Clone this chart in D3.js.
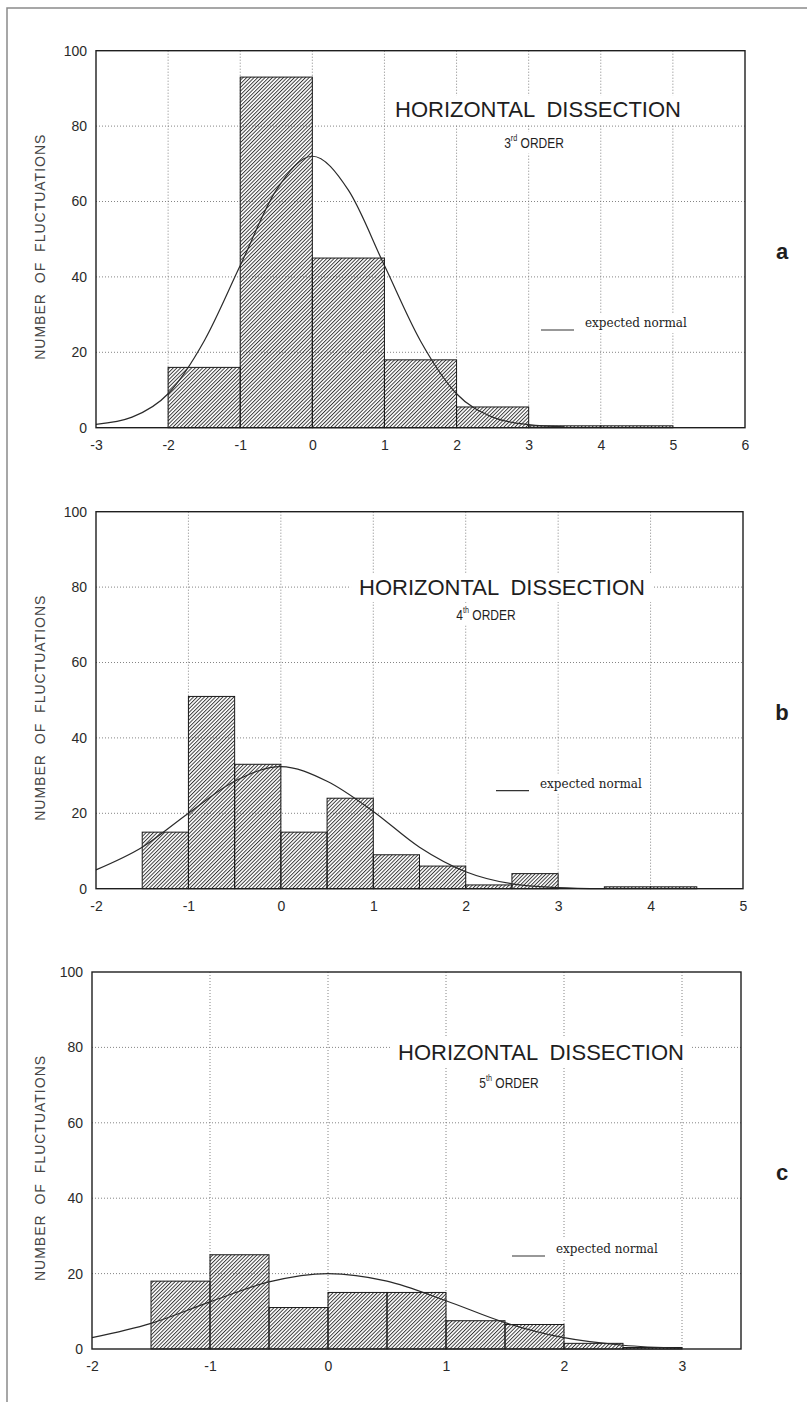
<!DOCTYPE html>
<html>
<head>
<meta charset="UTF-8">
<script src="https://cdn.jsdelivr.net/npm/d3@7"></script>
<style>
  body { margin: 0; background: #fff; }
  svg { display: block; }
  .tick-label { font-family: "Liberation Sans", Arial, sans-serif; font-size: 14px; fill: #2a2a2a; }
  .title { font-family: "Liberation Sans", Arial, sans-serif; fill: #1e1e1e; }
  .legend { font-family: "DejaVu Serif", serif; font-size: 12px; fill: #222; }
  .ytitle { font-family: "Liberation Sans", Arial, sans-serif; font-size: 14px; fill: #444; letter-spacing: 1px; word-spacing: 5px; }
  .grid { stroke: #777; stroke-width: 0.9; stroke-dasharray: 1,2; }
</style>
</head>
<body>
<div id="chart"></div>
<script>
const W = 807, H = 1402;

// --- datos ---
const ticksY = [0, 20, 40, 60, 80, 100];
const gridY = [20, 40, 60, 80];

// a: 3rd order
const edgesA = [-2, -1, 0, 1, 2, 3, 4, 5];
const countsA = [16, 93, 45, 18, 5.5, 0.5, 0.5];
const normXA = [-3, -2.5, -2, -1.5, -1, -0.5, 0, 0.5, 1, 1.5, 2, 2.5, 3, 3.5];
const normYA = [0.9, 2.8, 9, 23, 43, 63, 72, 63, 43, 23, 9, 2.8, 0.8, 0.2];
const ticksXA = [-3, -2, -1, 0, 1, 2, 3, 4, 5, 6];
const gridXA = [-2, -1, 0, 1, 2, 3, 4, 5];

// b: 4th order
const edgesB = [-1.5, -1, -0.5, 0, 0.5, 1, 1.5, 2, 2.5, 3, 3.5, 4, 4.5];
const countsB = [15, 51, 33, 15, 24, 9, 6, 1, 4, 0, 0.5, 0.5];
const normXB = [-2, -1.5, -1, -0.5, 0, 0.5, 1, 1.5, 2, 2.5, 3, 3.5];
const normYB = [5, 11, 20, 28.5, 32.4, 28.5, 20.5, 11, 4.5, 1.3, 0.3, 0];
const ticksXB = [-2, -1, 0, 1, 2, 3, 4, 5];
const gridXB = [-1, 0, 1, 2, 3, 4];

// c: 5th order
const edgesC = [-1.5, -1, -0.5, 0, 0.5, 1, 1.5, 2, 2.5, 3];
const countsC = [18, 25, 11, 15, 15, 7.5, 6.5, 1.5, 0.4];
const normXC = [-2, -1.5, -1, -0.5, 0, 0.5, 1, 1.5, 2, 2.5, 3];
const normYC = [3, 6.8, 12.5, 17.8, 20, 18, 12.8, 7, 3, 1, 0.2];
const ticksXC = [-2, -1, 0, 1, 2, 3];
const gridXC = [-1, 0, 1, 2, 3];

const titleText = "HORIZONTAL DISSECTION";
const orderNum = ["3", "4", "5"];
const orderSup = ["rd", "th", "th"];
const panelLetter = ["a", "b", "c"];
const legendText = "expected normal";
const yTitle = "NUMBER OF FLUCTUATIONS";

// --- disposicion de cada panel ---
const panels = [
  { x0: 96, x1: 745, top: 50.7, dom: [-3, 6], edges: edgesA, counts: countsA, nx: normXA, ny: normYA,
    ticks: ticksXA, grid: gridXA, titleX: 538, titleDy: 66.6, ordX: 534, ordDy: 97.6, legX: 541, legDy: 279.3 },
  { x0: 96, x1: 743, top: 511.7, dom: [-2, 5], edges: edgesB, counts: countsB, nx: normXB, ny: normYB,
    ticks: ticksXB, grid: gridXB, titleX: 502, titleDy: 83.3, ordX: 486, ordDy: 108.3, legX: 496, legDy: 279 },
  { x0: 92, x1: 741, top: 972, dom: [-2, 3.5], edges: edgesC, counts: countsC, nx: normXC, ny: normYC,
    ticks: ticksXC, grid: gridXC, titleX: 541, titleDy: 88, ordX: 509, ordDy: 116, legX: 512, legDy: 284 }
];
const plotH = 377;

const svg = d3.select("#chart").append("svg")
  .attr("width", W).attr("height", H);

// patron rayado
const defs = svg.append("defs");
defs.append("pattern")
  .attr("id", "hatch")
  .attr("patternUnits", "userSpaceOnUse")
  .attr("width", 2.6).attr("height", 2.6)
  .attr("patternTransform", "rotate(45)")
  .append("line")
  .attr("x1", 0.5).attr("y1", 0).attr("x2", 0.5).attr("y2", 2.6)
  .attr("stroke", "#2a2a2a").attr("stroke-width", 0.9);

// marco exterior
svg.append("rect")
  .attr("x", 7).attr("y", 8).attr("width", W + 10).attr("height", H + 10)
  .attr("fill", "none").attr("stroke", "#8a8a8a").attr("stroke-width", 1.5);

panels.forEach((p, i) => {
  const x = d3.scaleLinear().domain(p.dom).range([p.x0, p.x1]);
  const y = d3.scaleLinear().domain([0, 100]).range([p.top + plotH, p.top]);
  const g = svg.append("g");

  // rejilla
  g.selectAll(".gx").data(p.grid).join("line")
    .attr("class", "grid")
    .attr("x1", d => x(d)).attr("x2", d => x(d))
    .attr("y1", y(100)).attr("y2", y(0));
  g.selectAll(".gy").data(gridY).join("line")
    .attr("class", "grid")
    .attr("x1", p.x0).attr("x2", p.x1)
    .attr("y1", d => y(d)).attr("y2", d => y(d));

  // titulo con fondo blanco
  const tg = g.append("g");
  const t1 = tg.append("text").attr("class", "title")
    .attr("x", p.titleX).attr("y", p.top + p.titleDy)
    .attr("text-anchor", "middle").style("font-size", "22px")
    .style("word-spacing", "6px")
    .text(titleText);
  // texto de orden algo estrecho, como en el original
  const ordY = p.top + p.ordDy;
  const t2 = tg.append("text").attr("class", "title")
    .attr("transform", `translate(${p.ordX},${ordY}) scale(0.8,1)`)
    .attr("text-anchor", "middle").style("font-size", "15px");
  t2.append("tspan").text(orderNum[i]);
  t2.append("tspan").attr("dy", -7).style("font-size", "9px").text(orderSup[i]);
  t2.append("tspan").attr("dy", 7).text(" ORDER");
  const b1 = t1.node().getBBox();
  tg.insert("rect", "text")
    .attr("x", b1.x - 8).attr("y", b1.y - 2)
    .attr("width", b1.width + 16).attr("height", b1.height + 4)
    .attr("fill", "#fff");
  const b2 = t2.node().getBBox();
  tg.insert("rect", "text")
    .attr("x", p.ordX + (b2.x - 6) * 0.8).attr("y", ordY + b2.y - 2)
    .attr("width", (b2.width + 12) * 0.8).attr("height", b2.height + 4)
    .attr("fill", "#fff");

  // leyenda
  const lg = g.append("g");
  const ly = p.top + p.legDy;
  const lt = lg.append("text").attr("class", "legend")
    .attr("x", p.legX + 44).attr("y", ly - 3)
    .text(legendText);
  const lb = lt.node().getBBox();
  lg.insert("rect", "text")
    .attr("x", p.legX - 3).attr("y", lb.y - 3)
    .attr("width", lb.x + lb.width - p.legX + 6).attr("height", lb.height + 6)
    .attr("fill", "#fff");
  lg.append("line")
    .attr("x1", p.legX).attr("x2", p.legX + 33)
    .attr("y1", ly).attr("y2", ly)
    .attr("stroke", "#333").attr("stroke-width", 1.2);

  // barras
  const bins = p.counts.map((c, k) => ({ a: p.edges[k], b: p.edges[k + 1], c }));
  g.selectAll(".bar").data(bins.filter(d => d.c > 0)).join("rect")
    .attr("x", d => x(d.a)).attr("width", d => x(d.b) - x(d.a))
    .attr("y", d => y(d.c)).attr("height", d => y(0) - y(d.c))
    .attr("fill", "url(#hatch)")
    .attr("stroke", "#1a1a1a").attr("stroke-width", 1);

  // curva normal esperada
  const line = d3.line()
    .x(d => x(d[0])).y(d => y(d[1]))
    .curve(d3.curveMonotoneX);
  g.append("path")
    .datum(p.nx.map((v, k) => [v, p.ny[k]]))
    .attr("d", line)
    .attr("fill", "none").attr("stroke", "#2a2a2a").attr("stroke-width", 1.2);

  // marco del area
  g.append("rect")
    .attr("x", p.x0).attr("y", y(100))
    .attr("width", p.x1 - p.x0).attr("height", plotH)
    .attr("fill", "none").attr("stroke", "#1e1e1e").attr("stroke-width", 1.4);

  // ejes (solo etiquetas)
  const ax = g.append("g").attr("transform", `translate(0,${y(0)})`)
    .call(d3.axisBottom(x).tickValues(p.ticks).tickSize(0).tickPadding(12).tickFormat(d => String(d)));
  ax.select(".domain").remove();
  ax.selectAll("text").attr("class", "tick-label").attr("font-size", null).attr("font-family", null);

  const ay = g.append("g").attr("transform", `translate(${p.x0},0)`)
    .call(d3.axisLeft(y).tickValues(ticksY).tickSize(0).tickPadding(9).tickFormat(d => String(d)));
  ay.select(".domain").remove();
  ay.selectAll("text").attr("class", "tick-label").attr("font-size", null).attr("font-family", null);

  // titulo eje y
  g.append("text").attr("class", "ytitle")
    .attr("transform", `translate(45,${p.top + 196}) rotate(-90)`)
    .attr("text-anchor", "middle")
    .text(yTitle);

  // letra del panel
  g.append("text")
    .attr("x", 782).attr("y", p.top + 208)
    .attr("text-anchor", "middle")
    .style("font-family", "Liberation Sans, Arial, sans-serif")
    .style("font-weight", "bold").style("font-size", "22px").style("fill", "#1e1e1e")
    .text(panelLetter[i]);
});
</script>
</body>
</html>
